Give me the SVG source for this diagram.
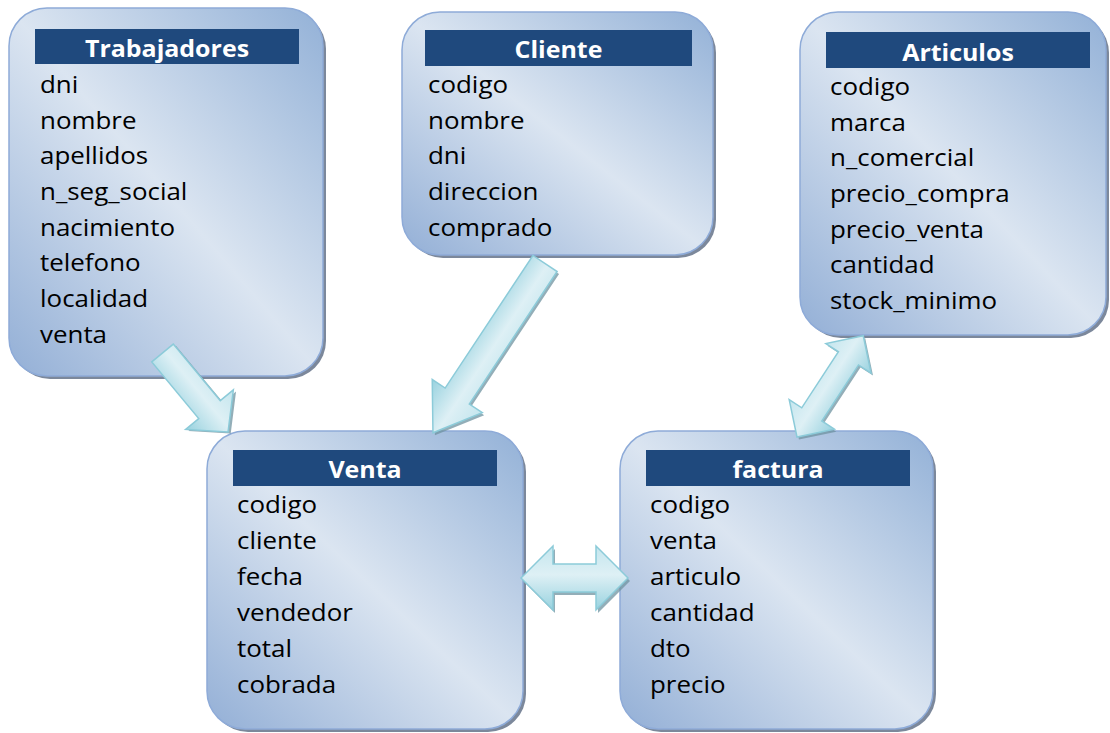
<svg xmlns="http://www.w3.org/2000/svg" width="1110" height="733" viewBox="0 0 1110 733">
<defs>
<linearGradient id="boxg" x1="0" y1="1" x2="1" y2="0">
<stop offset="0" stop-color="#93afd6"/>
<stop offset="0.5" stop-color="#dbe5f1"/>
<stop offset="1" stop-color="#93b1d7"/>
</linearGradient>
<linearGradient id="arrg" x1="0" y1="0" x2="0" y2="1">
<stop offset="0" stop-color="#c4e6ee"/>
<stop offset="0.45" stop-color="#def0f5"/>
<stop offset="1" stop-color="#98d2df"/>
</linearGradient>
<style>
.shadow{fill:#7c889b;}
.box{fill:url(#boxg);stroke:#8eabd8;stroke-width:1.5;}
.hdr{fill:#1f497d;}
.ttl{font-family:"Open Sans","DejaVu Sans",sans-serif;font-weight:bold;font-size:24px;fill:#ffffff;text-anchor:middle;}
.row{font-family:"Open Sans","DejaVu Sans",sans-serif;font-size:24px;fill:#000000;}
.arr{fill:url(#arrg);stroke:#8ccbd9;stroke-width:1.5;stroke-linejoin:miter;}
.ash{fill:#6f93a0;opacity:0.75;}
</style>
</defs>
<rect width="1110" height="733" fill="#ffffff"/>

<g id="trabajadores">
<rect class="shadow" x="12" y="11" width="314" height="368" rx="38"/>
<rect class="box" x="9" y="8" width="314" height="368" rx="38"/>
<rect class="hdr" x="35" y="29" width="264" height="35"/>
<text class="ttl" transform="translate(167 57) scale(1.04 1)">Trabajadores</text>
<g transform="translate(40 0) scale(1.08 1)">
<text class="row" x="0" y="93">dni</text>
<text class="row" x="0" y="128.7">nombre</text>
<text class="row" x="0" y="164.4">apellidos</text>
<text class="row" x="0" y="200.1">n_seg_social</text>
<text class="row" x="0" y="235.8">nacimiento</text>
<text class="row" x="0" y="271.5">telefono</text>
<text class="row" x="0" y="307.2">localidad</text>
<text class="row" x="0" y="342.9">venta</text>
</g>
</g>

<g id="cliente">
<rect class="shadow" x="405" y="15" width="311" height="243" rx="38"/>
<rect class="box" x="402" y="12" width="311" height="243" rx="38"/>
<rect class="hdr" x="425" y="30" width="267" height="36"/>
<text class="ttl" transform="translate(558.5 58) scale(1.04 1)">Cliente</text>
<g transform="translate(428 0) scale(1.08 1)">
<text class="row" x="0" y="93">codigo</text>
<text class="row" x="0" y="128.7">nombre</text>
<text class="row" x="0" y="164.4">dni</text>
<text class="row" x="0" y="200.1">direccion</text>
<text class="row" x="0" y="235.8">comprado</text>
</g>
</g>

<g id="articulos">
<rect class="shadow" x="803" y="15" width="306" height="323" rx="38"/>
<rect class="box" x="800" y="12" width="306" height="323" rx="38"/>
<rect class="hdr" x="826" y="32" width="264" height="36"/>
<text class="ttl" transform="translate(958 61) scale(1.04 1)">Articulos</text>
<g transform="translate(830 0) scale(1.08 1)">
<text class="row" x="0" y="95">codigo</text>
<text class="row" x="0" y="130.7">marca</text>
<text class="row" x="0" y="166.4">n_comercial</text>
<text class="row" x="0" y="202.1">precio_compra</text>
<text class="row" x="0" y="237.8">precio_venta</text>
<text class="row" x="0" y="273.5">cantidad</text>
<text class="row" x="0" y="309.2">stock_minimo</text>
</g>
</g>

<g id="venta">
<rect class="shadow" x="210" y="434" width="316" height="298" rx="38"/>
<rect class="box" x="207" y="431" width="316" height="298" rx="38"/>
<rect class="hdr" x="233" y="450" width="264" height="36"/>
<text class="ttl" transform="translate(365 478) scale(1.04 1)">Venta</text>
<g transform="translate(237 0) scale(1.08 1)">
<text class="row" x="0" y="513">codigo</text>
<text class="row" x="0" y="549">cliente</text>
<text class="row" x="0" y="585">fecha</text>
<text class="row" x="0" y="621">vendedor</text>
<text class="row" x="0" y="657">total</text>
<text class="row" x="0" y="693">cobrada</text>
</g>
</g>

<g id="factura">
<rect class="shadow" x="623" y="434" width="313" height="298" rx="38"/>
<rect class="box" x="620" y="431" width="313" height="298" rx="38"/>
<rect class="hdr" x="646" y="450" width="264" height="36"/>
<text class="ttl" transform="translate(778 478) scale(1.04 1)">factura</text>
<g transform="translate(650 0) scale(1.08 1)">
<text class="row" x="0" y="513">codigo</text>
<text class="row" x="0" y="549">venta</text>
<text class="row" x="0" y="585">articulo</text>
<text class="row" x="0" y="621">cantidad</text>
<text class="row" x="0" y="657">dto</text>
<text class="row" x="0" y="693">precio</text>
</g>
</g>

<g id="connectors">
<g transform="translate(162.5 353) rotate(50.3)">
<path class="ash" transform="translate(3 -1)" d="M0,-14 L73.6,-14 L73.6,-31 L102.6,0 L73.6,31 L73.6,14 L0,14 Z"/>
<path class="arr" d="M0,-14 L73.6,-14 L73.6,-31 L102.6,0 L73.6,31 L73.6,14 L0,14 Z"/>
</g>
<g transform="translate(545 263.5) rotate(123.5)">
<path class="ash" transform="translate(1 -3)" d="M0,-14.5 L159,-14.5 L159,-30 L203,0 L159,30 L159,14.5 L0,14.5 Z"/>
<path class="arr" d="M0,-14.5 L159,-14.5 L159,-30 L203,0 L159,30 L159,14.5 L0,14.5 Z"/>
</g>
<g transform="translate(521 578)">
<path class="ash" transform="translate(2 3)" d="M0,0 L32,-32 L32,-14 L75,-14 L75,-32 L107,0 L75,32 L75,14 L32,14 L32,32 Z"/>
<path class="arr" d="M0,0 L32,-32 L32,-14 L75,-14 L75,-32 L107,0 L75,32 L75,14 L32,14 L32,32 Z"/>
</g>
<g transform="translate(797 437) rotate(-56.8)">
<path class="ash" transform="translate(-1 3)" d="M0,0 L27,-27 L27,-12 L94,-12 L94,-27 L121,0 L94,27 L94,12 L27,12 L27,27 Z"/>
<path class="arr" d="M0,0 L27,-27 L27,-12 L94,-12 L94,-27 L121,0 L94,27 L94,12 L27,12 L27,27 Z"/>
</g>
</g>
</svg>
